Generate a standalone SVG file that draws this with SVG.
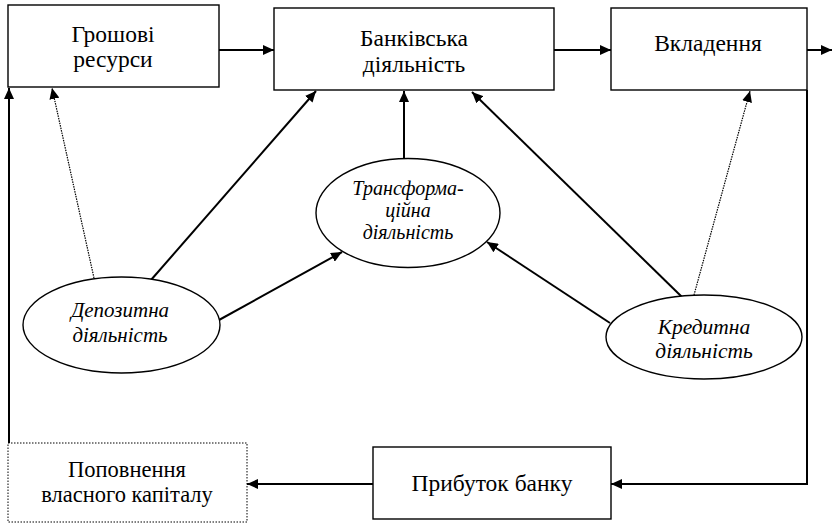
<svg xmlns="http://www.w3.org/2000/svg" width="832" height="526" viewBox="0 0 832 526">
<style>
.box{fill:#fff;stroke:#000;stroke-width:1.4}
.dbox{fill:#fff;stroke:#000;stroke-width:1;stroke-dasharray:1.5,1.5}
.ell{fill:#fff;stroke:#000;stroke-width:1.4}
.c{fill:none;stroke:#000;stroke-width:2}
.cd{fill:none;stroke:#000;stroke-width:1.2;stroke-dasharray:1.5,1}
text{text-anchor:middle;fill:#000;font-family:'Liberation Serif','Times New Roman',serif}
.t{font-size:23.5px}
.ti{font-size:21px;font-style:italic}
</style>
<defs>
<marker id="ah" markerUnits="userSpaceOnUse" markerWidth="12" markerHeight="10" refX="11" refY="5" orient="auto">
<path d="M0,0 L11,5 L0,10 z" fill="#000"/>
</marker>
</defs>
<rect width="832" height="526" fill="#fff"/>
<g id="connectors">
<line class="c" x1="219" y1="50" x2="274" y2="50" marker-end="url(#ah)"/>
<line class="c" x1="554" y1="50" x2="611" y2="50" marker-end="url(#ah)"/>
<line class="c" x1="807" y1="50" x2="832" y2="50" marker-end="url(#ah)"/>
<polyline class="c" points="807,90 807,484 611,484" marker-end="url(#ah)"/>
<line class="c" x1="373" y1="484" x2="247" y2="484" marker-end="url(#ah)"/>
<line class="c" x1="9" y1="443" x2="9" y2="88" marker-end="url(#ah)"/>
<line class="cd" x1="94" y1="278" x2="52" y2="88" marker-end="url(#ah)"/>
<line class="c" x1="151" y1="280" x2="316" y2="91" marker-end="url(#ah)"/>
<line class="c" x1="219" y1="320" x2="342" y2="252" marker-end="url(#ah)"/>
<line class="c" x1="404" y1="159" x2="404" y2="91" marker-end="url(#ah)"/>
<line class="c" x1="610" y1="323" x2="487" y2="242" marker-end="url(#ah)"/>
<line class="c" x1="682" y1="297" x2="472" y2="92" marker-end="url(#ah)"/>
<line class="cd" x1="694" y1="295" x2="750" y2="91" marker-end="url(#ah)"/>
</g>
<g id="hroshovi">
<rect class="box" x="8" y="5" width="211" height="82"/>
<text class="t" x="113" y="42">Грошові</text>
<text class="t" x="113" y="67">ресурси</text>
</g>
<g id="bankivska">
<rect class="box" x="274" y="8" width="280" height="82"/>
<text class="t" x="414" y="46">Банківська</text>
<text class="t" x="414" y="72">діяльність</text>
</g>
<g id="vkladennia">
<rect class="box" x="611" y="8" width="196" height="82"/>
<text class="t" x="708" y="51">Вкладення</text>
</g>
<g id="transform">
<ellipse class="ell" cx="408" cy="213" rx="92" ry="54.5"/>
<text class="ti" x="408" y="195" style="font-size:20px">Трансформа-</text>
<text class="ti" x="408" y="217" style="font-size:20px">ційна</text>
<text class="ti" x="408" y="239" style="font-size:20px">діяльність</text>
</g>
<g id="depozytna">
<ellipse class="ell" cx="121.5" cy="325" rx="98.5" ry="48"/>
<text class="ti" x="120" y="317">Депозитна</text>
<text class="ti" x="120" y="342">діяльність</text>
</g>
<g id="kredytna">
<ellipse class="ell" cx="704" cy="337" rx="98" ry="42"/>
<text class="ti" x="704" y="334" style="font-size:21.5px">Кредитна</text>
<text class="ti" x="704" y="358" style="font-size:21.5px">діяльність</text>
</g>
<g id="popovnennia">
<rect class="dbox" x="8" y="443" width="239" height="79"/>
<text class="t" x="127" y="477" style="font-size:22.5px">Поповнення</text>
<text class="t" x="127" y="502" style="font-size:22.5px">власного капіталу</text>
</g>
<g id="prybutok">
<rect class="box" x="373" y="447" width="238" height="72"/>
<text class="t" x="492" y="491">Прибуток банку</text>
</g>
</svg>
